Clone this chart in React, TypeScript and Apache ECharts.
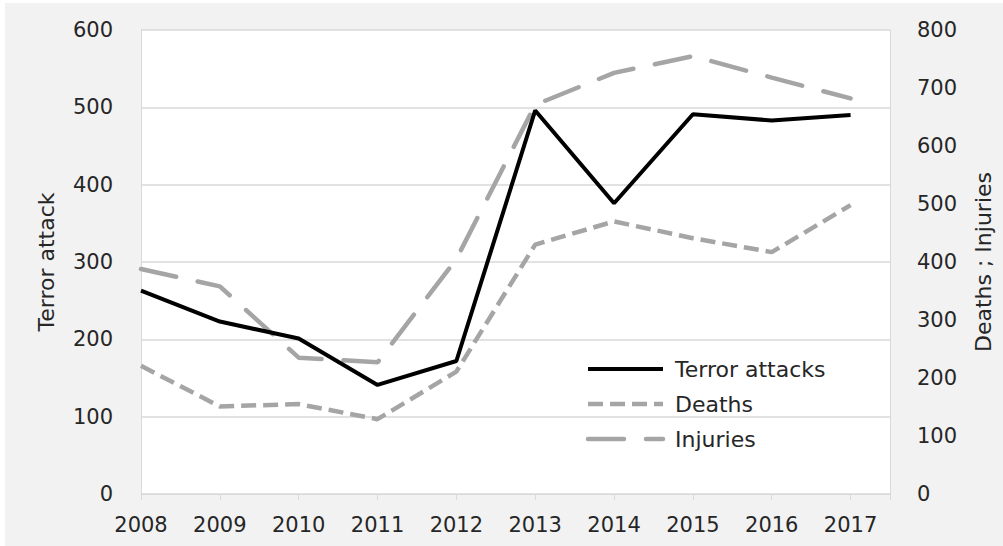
import React, { useEffect, useRef } from "react";
import * as echarts from "echarts";

const years = [2008, 2009, 2010, 2011, 2012, 2013, 2014, 2015, 2016, 2017];
const terrorAttacks = [263, 223, 201, 141, 172, 496, 376, 491, 483, 490];
const deaths = [221, 151, 155, 129, 211, 430, 470, 441, 417, 498];
const injuries = [388, 358, 235, 227, 405, 671, 726, 755, 718, 682];

const leftTicks = { min: 0, max: 600, interval: 100 };
const rightTicks = { min: 0, max: 800, interval: 100 };

const seriesNames = ["Terror attacks", "Deaths", "Injuries"];

const FONT = "'DejaVu Sans', 'Open Sans', sans-serif";
const TEXT = "#262626";
const GRID = "#d9d9d9";
const GRAY = "#a5a5a5";

const styles: Record<string, { color: string; width: number; dash: number[] | "solid"; cap: string }> = {
  "Terror attacks": { color: "#000000", width: 4, dash: "solid", cap: "butt" },
  Deaths: { color: GRAY, width: 4.5, dash: [15, 7], cap: "butt" },
  Injuries: { color: GRAY, width: 4.5, dash: [36, 22], cap: "round" },
};

const pair = (vals: number[]) => years.map((y, i) => [y, vals[i]]);

export default function App() {
  const ref = useRef<HTMLDivElement>(null);
  useEffect(() => {
    if (!ref.current) return;
    const chart = echarts.init(ref.current, undefined, { renderer: "svg" });

    const legendTop = 366;
    const legendStep = 35;
    const legendGraphics: any[] = [];
    seriesNames.forEach((name, i) => {
      const s = styles[name];
      const y = legendTop + i * legendStep;
      legendGraphics.push({
        type: "line",
        z: 100,
        shape: { x1: 583, y1: y, x2: 658, y2: y },
        style: {
          stroke: s.color,
          lineWidth: s.width,
          lineDash: s.dash === "solid" ? null : s.dash,
          lineCap: s.cap,
        },
      });
      legendGraphics.push({
        type: "text",
        z: 100,
        x: 670,
        y: y,
        style: {
          text: name,
          fontFamily: FONT,
          fontSize: 22,
          fill: TEXT,
          verticalAlign: "middle",
          align: "left",
        },
      });
    });

    const lineSeries = (name: string, vals: number[], axis: number, z: number) => {
      const s = styles[name];
      return {
        name,
        type: "line",
        yAxisIndex: axis,
        data: pair(vals),
        symbol: "none",
        lineStyle: { color: s.color, width: s.width, type: s.dash, cap: s.cap },
        itemStyle: { color: s.color },
        z,
      };
    };

    chart.setOption({
      animation: false,
      backgroundColor: "transparent",
      textStyle: { fontFamily: FONT },
      grid: {
        left: 136,
        right: 113,
        top: 27,
        bottom: 52,
        show: true,
        backgroundColor: "#ffffff",
        borderWidth: 0,
      },
      graphic: legendGraphics,
      xAxis: {
        type: "value",
        min: 2008,
        max: 2017.5,
        interval: 1,
        axisLine: { show: true, lineStyle: { color: GRID, width: 1 } },
        axisTick: { show: true, length: 6, lineStyle: { color: GRID } },
        splitLine: { show: false },
        axisLabel: {
          margin: 20,
          fontSize: 21,
          color: TEXT,
          fontFamily: FONT,
          showMaxLabel: true,
          formatter: (v: number) => (Number.isInteger(v) ? String(v) : ""),
        },
      },
      yAxis: [
        {
          type: "value",
          position: "left",
          ...leftTicks,
          name: "Terror attack",
          nameLocation: "middle",
          nameRotate: 90,
          nameGap: 84,
          nameTextStyle: { fontSize: 22, color: TEXT, fontFamily: FONT },
          axisLine: { show: true, lineStyle: { color: GRID } },
          axisTick: { show: false },
          splitLine: { show: true, lineStyle: { color: GRID, width: 1.5 } },
          axisLabel: { margin: 28, fontSize: 21, color: TEXT, fontFamily: FONT },
        },
        {
          type: "value",
          position: "right",
          ...rightTicks,
          name: "Deaths ; Injuries",
          nameLocation: "middle",
          nameRotate: 90,
          nameGap: 82,
          nameTextStyle: { fontSize: 22, color: TEXT, fontFamily: FONT },
          axisLine: { show: true, lineStyle: { color: GRID } },
          axisTick: { show: false },
          splitLine: { show: false },
          axisLabel: { margin: 27, fontSize: 21, color: TEXT, fontFamily: FONT },
        },
      ],
      series: [
        lineSeries("Injuries", injuries, 1, 3),
        lineSeries("Deaths", deaths, 1, 3),
        lineSeries("Terror attacks", terrorAttacks, 0, 4),
      ],
    });
    return () => chart.dispose();
  }, []);

  return (
    <div
      style={{
        position: "fixed",
        left: 0,
        top: 0,
        width: 1003,
        height: 546,
        background: "#ffffff",
      }}
    >
      <div
        style={{
          position: "absolute",
          left: 5,
          top: 3,
          width: 998,
          height: 543,
          background: "#f2f2f2",
        }}
      >
        <div ref={ref} style={{ width: 998, height: 543 }} />
      </div>
    </div>
  );
}
